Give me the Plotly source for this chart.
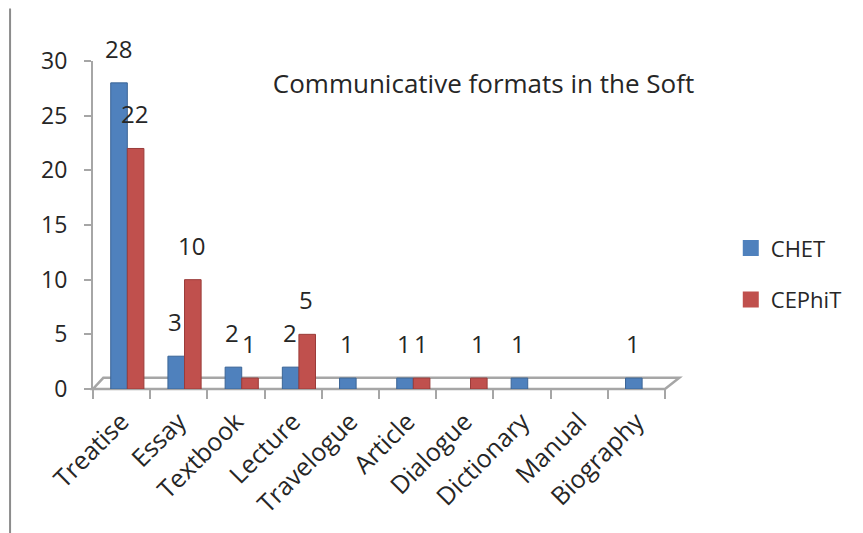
import plotly.graph_objects as go

categories = ["Treatise", "Essay", "Textbook", "Lecture", "Travelogue",
              "Article", "Dialogue", "Dictionary", "Manual", "Biography"]
chet = [28, 3, 2, 2, 1, 1, 0, 1, 0, 1]
cephit = [22, 10, 1, 5, 0, 1, 1, 0, 0, 0]
series_names = ["CHET", "CEPhiT"]
colors = ["#4F81BD", "#C0504D"]
edge_colors = ["#3B6596", "#9A3B39"]
y_ticks = [0, 5, 10, 15, 20, 25, 30]
title_text = "Communicative formats in the Soft"

FONT = "Open Sans"
TXT = "#262626"
GRAY = "#A6A6A6"

W, H = 863, 533
L, T = 85, 53
PW, PH = 572, 328

fig = go.Figure()

bar_width = 0.29
offsets = [-0.19, 0.10]
cat_px = PW / len(categories)
for name, vals, col, ecol, off in zip(series_names, [chet, cephit], colors, edge_colors, offsets):
    fig.add_trace(go.Bar(
        x=categories, y=vals, name=name, showlegend=False,
        width=bar_width, offset=off,
        marker=dict(color=col, line=dict(color=ecol, width=[1 if v else 0 for v in vals])),
    ))
    fig.add_trace(go.Scatter(
        x=[None], y=[None], mode="markers", name=name, legendgroup=name,
        marker=dict(symbol="square", size=16, color=col),
    ))
    for i, v in enumerate(vals):
        if v:
            fig.add_annotation(
                x=categories[i], y=v, text=str(v), showarrow=False,
                xref="x", yref="y", xanchor="center", yanchor="bottom",
                xshift=(off + bar_width / 2) * cat_px - 1, yshift=16,
                font=dict(family=FONT, size=24, color=TXT),
            )

# 3D floor outline (decoration)
fig.add_shape(
    type="path", xref="x domain", yref="y domain", layer="below",
    path="M 0 0 L 1.0 0 L 1.025 0.034 L 0.018 0.034 Z",
    line=dict(color=GRAY, width=2.5), fillcolor="#FFFFFF",
)
# left page border line (decoration)
fig.add_shape(
    type="line", xref="paper", yref="paper",
    x0=-0.145, x1=-0.145, y0=-0.46, y1=1.16,
    line=dict(color="#8C8C8C", width=2),
)

fig.update_layout(
    width=W, height=H,
    margin=dict(l=L, r=W - L - PW, t=T, b=H - T - PH, autoexpand=False),
    paper_bgcolor="white", plot_bgcolor="white",
    barmode="overlay",
    font=dict(family=FONT, size=22, color=TXT),
    title=dict(text=title_text, x=475.5 / W, xanchor="center", y=1 - 76 / H,
               yanchor="middle", font=dict(family=FONT, size=26, color=TXT)),
    legend=dict(x=1.115, y=0.35, xanchor="left", yanchor="middle",
                font=dict(family=FONT, size=22, color=TXT),
                traceorder="grouped", tracegroupgap=20,
                bgcolor="rgba(0,0,0,0)"),
    xaxis=dict(
        type="category", tickson="boundaries", ticks="outside", ticklen=9,
        tickcolor=GRAY, tickwidth=1.5, showline=False, showgrid=False,
        tickangle=-45, tickfont=dict(family=FONT, size=25, color=TXT),
        range=[-0.5, 9.5], zeroline=False, ticklabelstandoff=12,
    ),
    yaxis=dict(
        range=[0, 30], tickvals=y_ticks, ticks="outside", ticklen=7,
        tickcolor=GRAY, tickwidth=1.5, showline=True, linecolor=GRAY,
        linewidth=2, showgrid=False, zeroline=False, ticklabelstandoff=12,
        tickfont=dict(family=FONT, size=23, color=TXT),
    ),
)

fig.write_html("out.html")
